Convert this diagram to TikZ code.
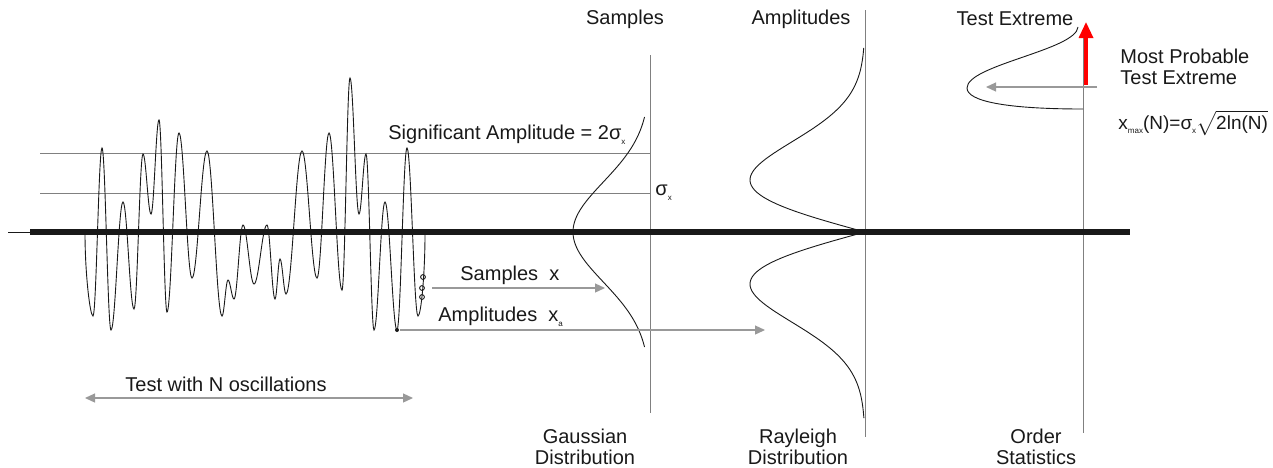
\documentclass[tikz,border=0pt]{standalone}
\usepackage{fontspec}
\setmainfont{Liberation Sans}
\usetikzlibrary{arrows.meta, calc}
\newcommand{\lowtext}[1]{\raisebox{-0.45ex}{\fontsize{4}{4}\selectfont #1}}

\begin{document}
\begin{tikzpicture}[x=0.5pt, y=-0.5pt,
    every node/.style={font=\fontsize{10}{10.5}\selectfont, inner sep=0pt, text=black!90},
    grayline/.style={draw=black!50, line width=0.5pt},
    curve/.style={draw=black!90, line width=0.45pt},
    grayarrow/.style={draw=black!40, line width=0.6pt, -{Triangle[length=5pt, width=4.5pt]}}]
    \useasboundingbox (0,0) rectangle (1273,467);

    % level lines and axes
    \draw[grayline] (40,153) -- (650,153);
    \draw[grayline] (40,193) -- (650,193);
    \draw[grayline] (650,55) -- (650,413);
    \draw[grayline] (865,10) -- (865,437);
    \draw[grayline] (1083,30) -- (1083,433);
    \draw[curve] (8,232) -- (30,232);
    \draw[line width=2.6pt, black!90] (30,232) -- (1130,232);

    % the test signal
    \draw[curve] (85,233) .. controls +(0,40) and +(-3,0) .. (93,316)
        \foreach \x/\y [remember=\x as \lastx (initially 93)] in {102/148, 111/330, 123/202,
            134/309, 143/154, 151/214, 159/120, 167/312, 179/133, 192/278, 207/151, 222/316,
            228/280, 234/299, 243/225, 254/284, 267/225, 275/299, 280/259, 286/294, 302/151,
            317/278, 329/133, 342/290, 350/78, 359/214, 366/154, 374/330, 385/202, 397/330,
            407/148, 418/316}
        { .. controls +({0.37*(\x-\lastx)},0) and +({-0.37*(\x-\lastx)},0) .. (\x,\y) }
        .. controls +(3,0) and +(0,40) .. (425,234);
    \foreach \p in {(423,277), (422,288), (422,297)} {
        \draw[curve] \p circle (2.4);
    }
    \fill[black!90] (397,330) circle (2);

    % distributions
    \draw[curve] plot[domain=-115:115, samples=80] ({650-77*exp(-(\x)*(\x)/5000)}, {232+\x});
    \draw[curve] plot[domain=0:3.54, samples=80] ({865-115*\x*exp(0.5-0.5*\x*\x)}, {232-52*\x});
    \draw[curve] plot[domain=0:3.58, samples=80] ({865-115*\x*exp(0.5-0.5*\x*\x)}, {232+52*\x});
    \draw[curve] (1078,27) .. controls (1076,50) and (967,65) .. (967,88)
        .. controls (967,101) and (1005,109) .. (1083,109);

    % arrows
    \coordinate (sa) at (432,288);
    \coordinate (sb) at (605,288);
    \coordinate (aa) at (400,330);
    \coordinate (ab) at (765,330);
    \coordinate (na) at (85,398);
    \coordinate (nb) at (413,398);
    \coordinate (ea) at (1097,87);
    \coordinate (eb) at (986,87);
    \coordinate (ra) at (1086,85);
    \coordinate (rb) at (1086,22);
    \draw[grayarrow] (sa) -- (sb);
    \draw[grayarrow] (aa) -- (ab);
    \draw[grayarrow, {Triangle[length=5pt, width=4.5pt]}-{Triangle[length=5pt, width=4.5pt]}] (na) -- (nb);
    \draw[grayarrow] (ea) -- (eb);
    \draw[red, line width=1.6pt, -{Triangle[length=8pt, width=7pt]}] (ra) -- (rb);

    % labels
    \node (tsam) at (625,19) {Samples};
    \node (tamp) at (801,19) {Amplitudes};
    \node (text) at (1015,19) {Test Extreme};
    \node[anchor=west, align=left] (tmost) at (1120,67) {Most Probable\\Test Extreme};
    \node[anchor=west, font=\fontsize{9.5}{10.5}\selectfont] (tform) at (1118,123) {x\lowtext{max}(N)=σ\lowtext{x}$\sqrt{\mbox{2ln(N)}}$};
    \node[anchor=west] (tsig) at (388,135) {Significant Amplitude = 2σ\lowtext{x}};
    \node[anchor=west] (tsx) at (655,193) {σ\lowtext{x}};
    \node[anchor=west] (tsx2) at (460,275) {Samples~~x};
    \node[anchor=west] (tax) at (438,317) {Amplitudes~~x\lowtext{a}};
    \node (tosc) at (226,384) {Test with N oscillations};
    \node[align=center] (tgau) at (585,447) {Gaussian\\Distribution};
    \node[align=center] (tray) at (798,447) {Rayleigh\\Distribution};
    \node[align=center] (tord) at (1036,447) {Order\\Statistics};
\end{tikzpicture}
\end{document}
